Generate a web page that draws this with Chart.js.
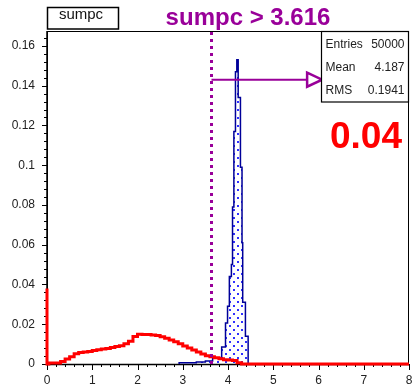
<!DOCTYPE html>
<html>
<head>
<meta charset="utf-8">
<title>sumpc</title>
<script src="https://cdn.jsdelivr.net/npm/chart.js@4.4.0/dist/chart.umd.min.js"></script>
<style>
  html, body { margin: 0; padding: 0; background: #fff; }
  #wrap { width: 413px; height: 386px; }
</style>
</head>
<body>
<div id="wrap"><canvas id="c" width="413" height="386"></canvas></div>
<script>
// histogram name, cut and stats box
const histName = 'sumpc';
const cutValue = 3.616;
const efficiency = '0.04';
const statsLabels = ['Entries', 'Mean', 'RMS'];
const statsValues = ['50000', '4.187', '0.1941'];

// axes
const xTicks = [0, 1, 2, 3, 4, 5, 6, 7, 8];
const yTicks = [0, 0.02, 0.04, 0.06, 0.08, 0.1, 0.12, 0.14, 0.16];
const yMax = 0.1675;

// red histogram: low bin edges and contents
const redEdges = [0, 0.04, 0.3, 0.4, 0.5, 0.6, 0.7, 0.8, 0.9, 1.0, 1.1, 1.2, 1.3, 1.4, 1.5,
  1.6, 1.7, 1.8, 1.9, 2.0, 2.1, 2.2, 2.3, 2.4, 2.5, 2.6, 2.7, 2.8, 2.9, 3.0, 3.1, 3.2,
  3.3, 3.4, 3.5, 3.6, 3.7, 3.8, 3.9, 4.0, 4.1, 4.2, 4.3, 4.4];
const redValues = [0.038, 0, 0.0005, 0.0012, 0.0025, 0.0037, 0.0052, 0.0058, 0.006, 0.0063,
  0.0068, 0.0072, 0.0075, 0.0078, 0.0083, 0.0088, 0.0092, 0.0102, 0.0115, 0.0138, 0.015,
  0.0148, 0.0148, 0.0146, 0.0143, 0.0137, 0.013, 0.0121, 0.0112, 0.0102, 0.0091, 0.008,
  0.007, 0.006, 0.005, 0.0042, 0.0037, 0.0032, 0.0027, 0.0022, 0.002, 0.0018, 0.0006, 0];

// blue histogram (after cut)
const blueEdges = [2.92, 3.3, 3.5, 3.66, 3.86, 3.945, 3.99, 4.03, 4.075, 4.1, 4.13, 4.165,
  4.195, 4.225, 4.275, 4.31, 4.325, 4.385, 4.445];
const blueValues = [0.0003, 0.0006, 0.001, 0.0015, 0.003, 0.0086, 0.0206, 0.029, 0.044,
  0.05, 0.079, 0.117, 0.147, 0.153, 0.134, 0.099, 0.061, 0.031, 0.014];
const blueEnd = 4.49;

// arrow
const arrowY = 0.143;
const arrowTip = 6.08;

const purple = '#990099';
Chart.defaults.font.family = '"Liberation Sans", Arial, sans-serif';

function histPoints(edges, values, last) {
  const pts = [{ x: edges[0], y: 0 }];
  edges.forEach((e, i) => pts.push({ x: e, y: values[i] }));
  pts.push({ x: last, y: 0 });
  return pts;
}

function dotPattern() {
  const c = document.createElement('canvas');
  c.width = 8; c.height = 8;
  const g = c.getContext('2d');
  g.fillStyle = '#3030ff';
  g.fillRect(1, 1, 2, 2);
  g.fillRect(5, 5, 2, 2);
  return g.createPattern(c, 'repeat');
}

function fmt(v) { return String(+v.toFixed(3)); }

// frame + ROOT style ticks
const framePlugin = {
  id: 'frame',
  beforeDatasetsDraw(chart) {
    const { ctx, chartArea: a, scales: { x, y } } = chart;
    ctx.save();
    ctx.strokeStyle = '#000';
    ctx.lineWidth = 1;
    ctx.strokeRect(a.left + 0.5, a.top + 0.5, a.right - a.left - 1, a.bottom - a.top);
    ctx.lineWidth = 1.5;
    ctx.beginPath();
    ctx.moveTo(a.left, a.top); ctx.lineTo(a.left, a.bottom + 0.5); ctx.lineTo(a.right, a.bottom + 0.5);
    ctx.stroke();
    ctx.lineWidth = 1;
    ctx.beginPath();
    for (let i = 0; i < xTicks.length; i++) {
      const px = Math.round(x.getPixelForValue(xTicks[i])) + 0.5;
      ctx.moveTo(px, a.bottom); ctx.lineTo(px, a.bottom + 6);
      if (i < xTicks.length - 1) {
        const step = (xTicks[i + 1] - xTicks[i]) / 5;
        for (let k = 1; k < 5; k++) {
          const mx = Math.round(x.getPixelForValue(xTicks[i] + k * step)) + 0.5;
          ctx.moveTo(mx, a.bottom); ctx.lineTo(mx, a.bottom + 3);
        }
      }
    }
    const ystep = (yTicks[1] - yTicks[0]) / 5;
    for (let i = 0; i < yTicks.length; i++) {
      const py = Math.round(y.getPixelForValue(yTicks[i])) + 0.5;
      ctx.moveTo(a.left, py); ctx.lineTo(a.left - 5, py);
      for (let k = 1; k < 5; k++) {
        const v = yTicks[i] + k * ystep;
        if (v > yMax) break;
        const my = Math.round(y.getPixelForValue(v)) + 0.5;
        ctx.moveTo(a.left, my); ctx.lineTo(a.left - 3, my);
      }
    }
    ctx.stroke();
    ctx.restore();
  },
  afterDatasetsDraw(chart) {
    const { ctx, chartArea: a, scales: { x, y } } = chart;
    const cx = Math.round(x.getPixelForValue(cutValue)) + 0.5;
    const ay = y.getPixelForValue(arrowY);
    const tip = x.getPixelForValue(arrowTip);
    ctx.save();
    ctx.strokeStyle = purple;
    // cut line
    ctx.lineWidth = 3;
    ctx.setLineDash([3, 4]);
    ctx.beginPath();
    ctx.moveTo(cx, a.bottom); ctx.lineTo(cx, a.top);
    ctx.stroke();
    ctx.setLineDash([]);
    // arrow
    ctx.lineWidth = 2;
    ctx.beginPath();
    ctx.moveTo(cx, ay); ctx.lineTo(tip - 15, ay);
    ctx.stroke();
    ctx.lineWidth = 2.5;
    ctx.fillStyle = '#fff';
    ctx.beginPath();
    ctx.moveTo(tip - 15, ay - 7); ctx.lineTo(tip, ay); ctx.lineTo(tip - 15, ay + 7);
    ctx.closePath();
    ctx.fill(); ctx.stroke();
    ctx.restore();
  },
  afterDraw(chart) {
    const { ctx, chartArea: a } = chart;
    ctx.save();
    // name box
    ctx.strokeStyle = '#000';
    ctx.lineWidth = 1.5;
    ctx.strokeRect(47.5, 7.5, 71, 21.5);
    ctx.fillStyle = '#111';
    ctx.font = '15px "Liberation Sans", Arial, sans-serif';
    ctx.textAlign = 'center';
    ctx.textBaseline = 'alphabetic';
    ctx.fillText(histName, 81, 19);
    // title
    ctx.fillStyle = purple;
    ctx.font = 'bold 24px "Liberation Sans", Arial, sans-serif';
    ctx.fillText(histName + ' > ' + cutValue, 248, 25);
    // stats box
    const bx = 321.5, by = a.top + 0.5, bw = a.right - bx - 0.5, bh = 70.5;
    ctx.fillStyle = '#fff';
    ctx.fillRect(bx, by, bw, bh);
    ctx.lineWidth = 1.2;
    ctx.strokeRect(bx, by, bw, bh);
    ctx.fillStyle = '#222';
    ctx.font = '12px "Liberation Sans", Arial, sans-serif';
    statsLabels.forEach((lab, i) => {
      const ty = by + 16 + i * 23.3;
      ctx.textAlign = 'left';
      ctx.fillText(lab, bx + 4, ty);
      ctx.textAlign = 'right';
      ctx.fillText(statsValues[i], bx + bw - 4, ty);
    });
    // efficiency
    ctx.fillStyle = '#ff0000';
    ctx.font = 'bold 37px "Liberation Sans", Arial, sans-serif';
    ctx.textAlign = 'right';
    ctx.fillText(efficiency, 402, 148);
    ctx.restore();
  }
};

new Chart(document.getElementById('c'), {
  type: 'line',
  data: {
    datasets: [
      {
        label: 'all',
        data: histPoints(redEdges, redValues, 8),
        borderColor: '#ff0000',
        borderWidth: 3,
        stepped: 'after',
        pointRadius: 0,
        fill: false,
        clip: false
      },
      {
        label: 'cut',
        data: histPoints(blueEdges, blueValues, blueEnd),
        borderColor: '#000099',
        borderWidth: 1.5,
        backgroundColor: dotPattern(),
        stepped: 'after',
        pointRadius: 0,
        fill: 'origin'
      }
    ]
  },
  options: {
    responsive: false,
    animation: false,
    devicePixelRatio: 1,
    layout: { padding: { top: 31, right: 4, left: 0, bottom: 0 } },
    plugins: { legend: { display: false }, tooltip: { enabled: false } },
    scales: {
      x: {
        type: 'linear', min: 0, max: 8,
        grid: { display: false, drawTicks: false },
        border: { display: false },
        afterBuildTicks: s => { s.ticks = xTicks.map(v => ({ value: v })); },
        afterFit: s => { s.height = 22; s.paddingLeft = 0; s.paddingRight = 0; },
        ticks: { autoSkip: false, maxRotation: 0, padding: 9, color: '#222', font: { size: 12 }, callback: v => fmt(v) }
      },
      y: {
        type: 'linear', min: 0, max: yMax,
        grid: { display: false, drawTicks: false },
        border: { display: false },
        afterBuildTicks: s => { s.ticks = yTicks.map(v => ({ value: v })); },
        afterFit: s => { s.width = 47; s.paddingTop = 0; s.paddingBottom = 0; },
        ticks: { autoSkip: false, padding: 12, color: '#222', font: { size: 12 }, callback: v => fmt(v) }
      }
    }
  },
  plugins: [framePlugin]
});
</script>
</body>
</html>
